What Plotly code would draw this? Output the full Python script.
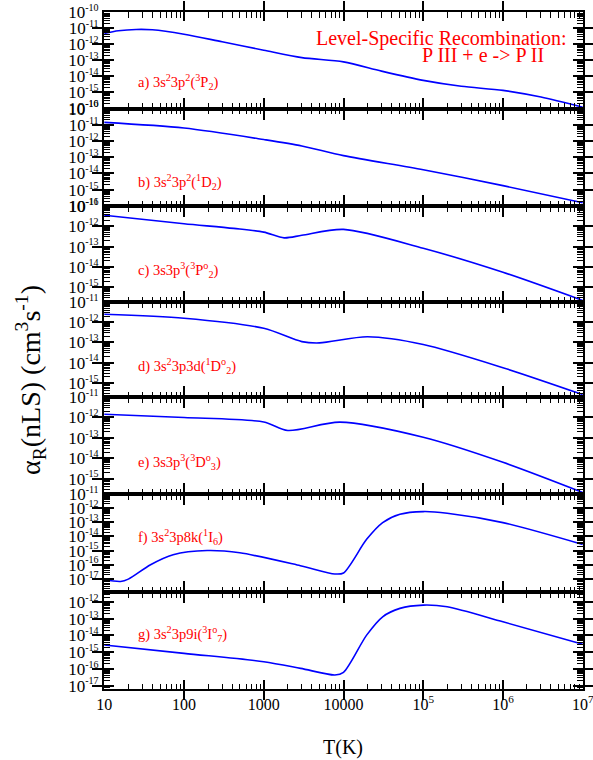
import math
import plotly.graph_objects as go

# ---------------- data ----------------
T_a = [10, 15, 25, 40, 100, 300, 1000, 3000, 1e4, 3e4, 1e5, 3e5, 1e6, 3e6, 1e7]
alpha_a = [4.7e-12, 6.8e-12, 8.3e-12, 7.9e-12, 4.2e-12, 1.41e-12, 4.2e-13, 1.45e-13,
           7.9e-14, 2.1e-14, 5.6e-15, 2.4e-15, 1.33e-15, 5.1e-16, 1.2e-16]

T_b = [10, 100, 1000, 3000, 1e4, 1e5, 1e6, 1e7]
alpha_b = [1.41e-11, 6.3e-12, 1.23e-12, 5.0e-13, 1.26e-13, 1.7e-14, 1.78e-15, 1.58e-16]

T_c = [10, 100, 420, 1000, 1800, 3000, 1e4, 1e5, 1e6, 1e7]
alpha_c = [3.5e-12, 1.35e-12, 7.9e-13, 5.2e-13, 2.7e-13, 3.6e-13, 7.1e-13, 8.3e-14, 5.4e-15, 2.2e-16]

T_d = [10, 100, 1000, 3000, 5000, 2e4, 1e5, 1e6, 1e7]
alpha_d = [2.5e-12, 1.58e-12, 5.0e-13, 1.1e-13, 9.5e-14, 1.9e-13, 7.9e-14, 5.6e-15, 2.6e-16]

T_e = [10, 100, 1000, 2000, 9000, 1e5, 1e6, 1e7]
alpha_e = [1.45e-12, 1.0e-12, 6.0e-13, 2.3e-13, 5.9e-13, 1.07e-13, 6.3e-15, 2.1e-16]

T_f = [10, 16, 20, 38, 73, 195, 500, 2870, 7800, 1e4, 19500, 31000, 51000, 1e5, 2e5, 1e6, 1e7]
alpha_f = [8.5e-18, 6.5e-18, 9.5e-18, 1.0e-16, 5.1e-16, 1.0e-15, 6.9e-16, 8.5e-17, 2.2e-17,
           2.6e-17, 6.2e-15, 9.5e-14, 3.7e-13, 5.75e-13, 4.4e-13, 9.5e-14, 2.7e-15]

T_g = [10, 100, 1000, 2900, 7800, 1e4, 19500, 31000, 51000, 1e5, 2e5, 1e6, 1e7]
alpha_g = [2.7e-15, 8.5e-16, 2.7e-16, 1.07e-16, 4.3e-17, 6.2e-17, 1.05e-14, 1.32e-13,
           4.2e-13, 6.6e-13, 5.2e-13, 6.6e-14, 2.95e-15]

panel_labels = [
    "a) 3s<sup>2</sup>3p<sup>2</sup>(<sup>3</sup>P<sub>2</sub>)",
    "b) 3s<sup>2</sup>3p<sup>2</sup>(<sup>1</sup>D<sub>2</sub>)",
    "c) 3s3p<sup>3</sup>(<sup>3</sup>P<sup>o</sup><sub>2</sub>)",
    "d) 3s<sup>2</sup>3p3d(<sup>1</sup>D<sup>o</sup><sub>2</sub>)",
    "e) 3s3p<sup>3</sup>(<sup>3</sup>D<sup>o</sup><sub>3</sub>)",
    "f) 3s<sup>2</sup>3p8k(<sup>1</sup>I<sub>6</sub>)",
    "g) 3s<sup>2</sup>3p9i(<sup>3</sup>I<sup>o</sup><sub>7</sub>)",
]
x_tickvals = [10, 100, 1000, 1e4, 1e5, 1e6, 1e7]
x_ticktext = ["10", "100", "1000", "10000", "10<sup>5</sup>", "10<sup>6</sup>", "10<sup>7</sup>"]

series = [(T_a, alpha_a), (T_b, alpha_b), (T_c, alpha_c), (T_d, alpha_d),
          (T_e, alpha_e), (T_f, alpha_f), (T_g, alpha_g)]
# log10 y ranges per panel
y_ranges = [(-16, -10), (-16, -10), (-15.73, -11), (-15.7, -11), (-15.75, -11),
            (-17.93, -11), (-17.2, -11.4)]
label_y_px = [82, 182, 270, 366, 462, 537, 634]

# ---------------- layout geometry (page pixels; body margin removed) ----------------
W, H = 593, 760
PL, PR, PT, PB = 104, 583, 12, 689          # plot area
L, R, TOP, BOT = PL, W - PR, PT, H - PB
plot_h = PB - PT
bounds = [12, 108.5, 206, 302, 397, 494, 592, 689]
EPS = 0.004


def fy(ypx):
    return (PB - ypx) / plot_h


def fx(xpx):
    return (xpx - PL) / (PR - PL)


FONT = "Liberation Serif"
fig = go.Figure()

minor_x = [m * 10 ** k for k in range(1, 7) for m in range(2, 10)]
NP = len(series)

for i, (T, a) in enumerate(series):
    n = "" if i == 0 else str(i + 1)
    mn = str(i + 1 + NP)  # overlay axes for minor ticks
    fig.add_trace(go.Scatter(x=T, y=a, mode="lines", xaxis="x" + n, yaxis="y" + n,
                             line=dict(color="#0000ff", width=1.6, shape="spline", smoothing=0.8),
                             showlegend=False, hoverinfo="skip"))
    fig.add_trace(go.Scatter(x=[], y=[], xaxis="x" + mn, yaxis="y" + n, showlegend=False))
    fig.add_trace(go.Scatter(x=[], y=[], xaxis="x" + n, yaxis="y" + mn, showlegend=False))
    lo, hi = y_ranges[i]
    yr = [lo - EPS, hi + EPS]
    ydec = [10.0 ** k for k in range(-20, -8) if lo - 1e-6 <= k <= hi + 1e-6]
    yminor = [m * 10.0 ** k for k in range(-20, -8) for m in range(2, 10)
              if lo <= math.log10(m * 10.0 ** k) <= hi]
    ytext = ['10<sup><span style="font-size:10px">%d</span></sup>' % round(math.log10(v))
             for v in ydec]
    dom = [fy(bounds[i + 1]), fy(bounds[i])]
    last = i == NP - 1
    common = dict(showgrid=False, zeroline=False, automargin=False, tickcolor="black",
                  ticklabeloverflow="allow")
    fig.layout["xaxis" + n] = dict(
        type="log", range=[1 - EPS, 7 + EPS], domain=[0, 1], anchor="y" + n,
        showline=True, linecolor="black", linewidth=2, mirror="allticks",
        ticks="inside", ticklen=9, tickwidth=2,
        tickmode="array", tickvals=x_tickvals, ticktext=x_ticktext,
        showticklabels=last,
        tickfont=dict(family=FONT, size=16, color="black"), **common)
    fig.layout["xaxis" + mn] = dict(
        type="log", range=[1 - EPS, 7 + EPS], overlaying="x" + n, anchor="y" + n,
        showline=False, mirror="allticks", ticks="inside", ticklen=5.5, tickwidth=1.3,
        tickmode="array", tickvals=minor_x, showticklabels=False, **common)
    fig.layout["yaxis" + n] = dict(
        type="log", range=yr, domain=dom, anchor="x" + n,
        showline=True, linecolor="black", linewidth=2, mirror="allticks",
        ticks="inside", ticklen=10, tickwidth=1.5,
        tickmode="array", tickvals=ydec, ticktext=ytext,
        tickfont=dict(family=FONT, size=17, color="black"), **common)
    fig.layout["yaxis" + mn] = dict(
        type="log", range=yr, overlaying="y" + n, anchor="x" + n,
        showline=False, mirror="allticks", ticks="inside", ticklen=6, tickwidth=1,
        tickmode="array", tickvals=yminor, showticklabels=False, **common)
    fig.add_annotation(text=panel_labels[i], xref="paper", yref="paper",
                       x=fx(136), y=fy(label_y_px[i]), xanchor="left", yanchor="middle",
                       showarrow=False, font=dict(family=FONT, size=14.5, color="red"))

fig.add_annotation(text="Level-Specific Recombination:", xref="paper", yref="paper",
                   x=fx(568), y=fy(38), xanchor="right", yanchor="middle", showarrow=False,
                   font=dict(family=FONT, size=20, color="red"))
fig.add_annotation(text="P III + e -> P II", xref="paper", yref="paper",
                   x=fx(546), y=fy(55), xanchor="right", yanchor="middle", showarrow=False,
                   font=dict(family=FONT, size=20, color="red"))
fig.add_annotation(text="α<sub>R</sub>(nLS) (cm<sup>3</sup>s<sup>-1</sup>)", xref="paper", yref="paper",
                   x=fx(30), y=fy(380), xanchor="center", yanchor="middle", textangle=-90,
                   showarrow=False, font=dict(family=FONT, size=28, color="black"))
fig.add_annotation(text="T(K)", xref="paper", yref="paper",
                   x=fx(343), y=fy(747), xanchor="center", yanchor="middle",
                   showarrow=False, font=dict(family=FONT, size=20, color="black"))

fig.update_layout(width=W, height=H, margin=dict(l=L, r=R, t=TOP, b=BOT, autoexpand=False),
                  paper_bgcolor="white", plot_bgcolor="white")
fig.write_html("out.html", config={"displayModeBar": False},
               post_script="document.body.style.margin='0px';")
